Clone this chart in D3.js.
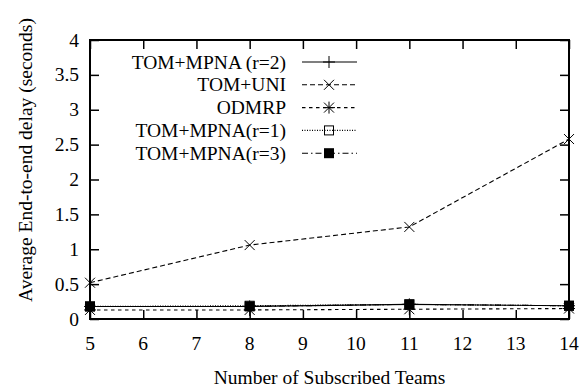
<!DOCTYPE html>
<html><head><meta charset="utf-8">
<script src="https://cdn.jsdelivr.net/npm/d3@7"></script>
</head><body style="margin:0;background:#fff"><svg id="c" width="587" height="387"></svg>
<script>
const teams = [5, 8, 11, 14];
const xTicks = [5,6,7,8,9,10,11,12,13,14];
const yTicks = [0,0.5,1,1.5,2,2.5,3,3.5,4];
const yTickLabels = ["0","0.5","1","1.5","2","2.5","3","3.5","4"];
const seriesNames = ["TOM+MPNA (r=2)","TOM+UNI","ODMRP","TOM+MPNA(r=1)","TOM+MPNA(r=3)"];
const mpnaR2 = [0.18, 0.18, 0.21, 0.19];
const tomUni = [0.52, 1.06, 1.32, 2.58];
const odmrp  = [0.13, 0.13, 0.14, 0.15];
const mpnaR1 = [0.18, 0.19, 0.21, 0.19];
const mpnaR3 = [0.18, 0.18, 0.21, 0.19];
const xLabel = "Number of Subscribed Teams";
const yLabel = "Average End-to-end delay (seconds)";

const svg = d3.select("#c");
const L=90, R=569, T=40, B=319;
const x = d3.scaleLinear().domain([5,14]).range([L,R]);
const y = d3.scaleLinear().domain([0,4]).range([B,T]);

const series = [
  {name:seriesNames[0], vals:mpnaR2, dash:null, marker:"plus"},
  {name:seriesNames[1], vals:tomUni, dash:"5,3", marker:"cross"},
  {name:seriesNames[2], vals:odmrp, dash:"3.5,3.5", marker:"star"},
  {name:seriesNames[3], vals:mpnaR1, dash:"1,1.5", marker:"box"},
  {name:seriesNames[4], vals:mpnaR3, dash:"6,3,1.5,3", marker:"fbox"}
];

function addText(parent, str, xx, yy, anchor, transform){
  const t = parent.append("text").attr("font-family","Liberation Serif").attr("font-size",19.5)
    .attr("text-anchor",anchor).text(str);
  if(transform) t.attr("transform",transform); else t.attr("x",xx).attr("y",yy);
  return t;
}

const tl = 9;
const axes = [
  svg.append("g").attr("transform",`translate(0,${B})`).call(d3.axisBottom(x).tickValues(xTicks).tickSizeInner(-tl).tickSizeOuter(0).tickFormat("")),
  svg.append("g").attr("transform",`translate(0,${T})`).call(d3.axisTop(x).tickValues(xTicks).tickSizeInner(-tl).tickSizeOuter(0).tickFormat("")),
  svg.append("g").attr("transform",`translate(${L},0)`).call(d3.axisLeft(y).tickValues(yTicks).tickSizeInner(-tl).tickSizeOuter(0).tickFormat("")),
  svg.append("g").attr("transform",`translate(${R},0)`).call(d3.axisRight(y).tickValues(yTicks).tickSizeInner(-tl).tickSizeOuter(0).tickFormat(""))
];
axes.forEach(g=>{
  g.select(".domain").remove();
  g.selectAll(".tick text").remove();
  g.selectAll(".tick line").attr("stroke","#000").attr("stroke-width",1.5);
});
svg.append("rect").attr("x",L).attr("y",T).attr("width",R-L).attr("height",B-T)
  .attr("fill","none").attr("stroke","#000").attr("stroke-width",2);

const labels = svg.append("g");
xTicks.forEach(v=>addText(labels, String(v), x(v), 350, "middle"));
yTicks.forEach((v,i)=>addText(labels, yTickLabels[i], 79, y(v)+6.5, "end"));
addText(labels, xLabel, (L+R)/2, 384, "middle");
addText(labels, yLabel, 0, 0, "middle", "translate(32,160) rotate(-90)");

function marker(g, type, cx, cy){
  const s=6;
  if(type==="plus"){
    g.append("path").attr("d",`M${cx-s},${cy}H${cx+s}M${cx},${cy-s}V${cy+s}`).attr("stroke","#000").attr("stroke-width",1);
  } else if(type==="cross"){
    const d=5;
    g.append("path").attr("d",`M${cx-d},${cy-d}L${cx+d},${cy+d}M${cx-d},${cy+d}L${cx+d},${cy-d}`).attr("stroke","#000").attr("stroke-width",1);
  } else if(type==="star"){
    const d=5;
    g.append("path").attr("d",`M${cx-s},${cy}H${cx+s}M${cx},${cy-s}V${cy+s}M${cx-d},${cy-d}L${cx+d},${cy+d}M${cx-d},${cy+d}L${cx+d},${cy-d}`).attr("stroke","#000").attr("stroke-width",1);
  } else if(type==="box"){
    g.append("rect").attr("x",cx-4.5).attr("y",cy-4.5).attr("width",9).attr("height",9).attr("fill","none").attr("stroke","#000").attr("stroke-width",1);
  } else if(type==="fbox"){
    g.append("rect").attr("x",cx-5).attr("y",cy-5).attr("width",10).attr("height",10).attr("fill","#000");
  }
}

const line = d3.line().x((d,i)=>x(teams[i])).y(d=>y(d));
const plot = svg.append("g");
series.forEach(s=>{
  plot.append("path").attr("d",line(s.vals)).attr("fill","none").attr("stroke","#000")
    .attr("stroke-width",1.1).attr("stroke-dasharray",s.dash);
  s.vals.forEach((v,i)=>marker(plot,s.marker,x(teams[i]),y(v)));
});

const lg = svg.append("g");
series.forEach((s,i)=>{
  const yy = 62 + i*22.8;
  addText(lg, s.name, 286, yy+6.5, "end");
  lg.append("line").attr("x1",302).attr("x2",357).attr("y1",yy).attr("y2",yy)
    .attr("stroke","#000").attr("stroke-width",1.1).attr("stroke-dasharray",s.dash);
  marker(lg,s.marker,329,yy);
});
</script></body></html>
